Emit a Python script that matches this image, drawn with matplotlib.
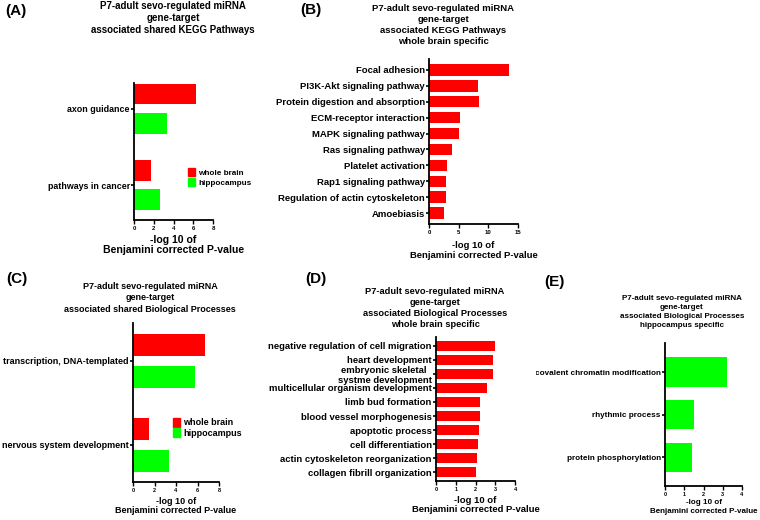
import matplotlib
matplotlib.use('Agg')
import matplotlib.pyplot as plt
import numpy as np
from matplotlib.patches import Patch
from matplotlib.transforms import Bbox, TransformedBbox

plt.rcParams['font.family'] = ['Liberation Sans', 'DejaVu Sans']
plt.rcParams['font.weight'] = 'bold'

RED = '#ff0000'
GREEN = '#00ff00'

# panel A - shared KEGG
kegg_shared = ['axon guidance', 'pathways in cancer']
kegg_shared_wb = [6.3, 1.7]
kegg_shared_hc = [3.3, 2.6]

# panel B - KEGG whole brain specific
kegg_wb = ['Focal adhesion', 'PI3K-Akt signaling pathway', 'Protein digestion and absorption',
           'ECM-receptor interaction', 'MAPK signaling pathway', 'Ras signaling pathway',
           'Platelet activation', 'Rap1 signaling pathway', 'Regulation of actin cytoskeleton',
           'Amoebiasis']
kegg_wb_vals = [13.5, 8.25, 8.4, 5.15, 5.05, 3.8, 3.1, 2.9, 2.9, 2.5]

# panel C - shared BP
bp_shared = ['transcription, DNA-templated', 'nervous system development']
bp_shared_wb = [6.7, 1.5]
bp_shared_hc = [5.75, 3.35]

# panel D - BP whole brain specific
bp_wb = ['negative regulation of cell migration', 'heart development',
         'embryonic skeletal  \nsystme development', 'multicellular organism development',
         'limb bud formation', 'blood vessel morphogenesis', 'apoptotic process',
         'cell differentiation', 'actin cytoskeleton reorganization', 'collagen fibrill organization']
bp_wb_vals = [3.0, 2.89, 2.89, 2.6, 2.23, 2.23, 2.16, 2.14, 2.1, 2.04]

# panel E - BP hippocampus specific
bp_hc = ['covalent chromatin modification', 'rhythmic process', 'protein phosphorylation']
bp_hc_vals = [3.2, 1.5, 1.4]

W, H = 760, 520
fig = plt.figure(figsize=(7.6, 5.2), dpi=100)


def px_axes(x0, y0, x1, y1):
    # pixel box (top-left origin) -> figure axes
    return fig.add_axes([x0 / W, 1 - y1 / H, (x1 - x0) / W, (y1 - y0) / H])


def ftext(x, y, s, size, **kw):
    fig.text(x / W, 1 - y / H, s, fontsize=size, fontweight='bold', **kw)


def style(ax, xmax, step, lab, tick, xl, lpad=3, lsp=1.0):
    for sp in ['top', 'right']:
        ax.spines[sp].set_visible(False)
    for sp in ['left', 'bottom']:
        ax.spines[sp].set_linewidth(1.3)
    ax.set_xlim(0, xmax)
    ax.set_xticks(np.arange(0, xmax + 0.01, step))
    ax.tick_params(axis='y', length=2.5, width=1.2, pad=0.5, labelsize=lab)
    ax.tick_params(axis='x', length=3, width=1.0, pad=1, labelsize=tick)
    for t in ax.get_xticklabels() + ax.get_yticklabels():
        t.set_fontweight('bold')
    ax.set_xlabel('-log 10 of\nBenjamini corrected P-value', fontsize=xl, fontweight='bold',
                  labelpad=lpad, linespacing=lsp)


def legend(ax, x, y, size):
    ax.legend(handles=[Patch(color=RED, label='whole brain'), Patch(color=GREEN, label='hippocampus')],
              loc='upper left', bbox_to_anchor=(x / W, 1 - y / H), bbox_transform=fig.transFigure,
              frameon=False, handlelength=0.8, handleheight=1.2, handletextpad=0.4,
              labelspacing=0.1, borderpad=0, prop={'weight': 'bold', 'size': size})


# (A)
ax = px_axes(134, 83, 213, 220)
y = np.arange(len(kegg_shared))
ax.barh(y - 0.19, kegg_shared_wb, height=0.27, color=RED)
ax.barh(y + 0.19, kegg_shared_hc, height=0.27, color=GREEN)
ax.set_yticks(y, kegg_shared)
ax.set_ylim(1.455, -0.336)
style(ax, 8, 2, 6.4, 4.3, 7.6, lpad=3, lsp=1.05)
legend(ax, 184, 164, 5.9)
ftext(16, 11, '(A)', 11, ha='center', va='center')
ftext(173, 18, 'P7-adult sevo-regulated miRNA\ngene-target\nassociated shared KEGG Pathways', 7.0,
      ha='center', va='center', linespacing=1.25)

# (B)
ax = px_axes(429, 59, 518, 224)
y = np.arange(len(kegg_wb))
ax.barh(y, kegg_wb_vals, height=0.71, color=RED)
ax.set_yticks(y, kegg_wb)
ax.set_ylim(9.69, -0.69)
style(ax, 15, 5, 6.8, 4.3, 6.8, lpad=5, lsp=1.1)
ftext(311, 10, '(B)', 11, ha='center', va='center')
ftext(443, 25, 'P7-adult sevo-regulated miRNA\ngene-target\nassociated KEGG Pathways\nwhole brain specific', 6.8,
      ha='center', va='center', linespacing=1.3)

# (C)
ax = px_axes(133, 323, 219, 482)
y = np.arange(len(bp_shared))
ax.barh(y - 0.19, bp_shared_wb, height=0.26, color=RED)
ax.barh(y + 0.19, bp_shared_hc, height=0.26, color=GREEN)
ax.set_yticks(y, bp_shared)
ax.set_ylim(1.44, -0.45)
style(ax, 8, 2, 6.5, 4.0, 6.5, lpad=3, lsp=1.1)
legend(ax, 168, 413, 6.5)
ftext(17, 279, '(C)', 11, ha='center', va='center')
ftext(150, 298, 'P7-adult sevo-regulated miRNA\ngene-target\nassociated shared Biological Processes', 6.5,
      ha='center', va='center', linespacing=1.3)

# (D)
ax = px_axes(436, 337, 515, 481)
y = np.arange(len(bp_wb))
ax.barh(y, bp_wb_vals, height=0.69, color=RED)
ax.set_yticks(y, bp_wb)
ax.set_ylim(9.64, -0.64)
style(ax, 4, 1, 6.8, 4.0, 6.8, lpad=3, lsp=1.1)
ftext(316, 279, '(D)', 11, ha='center', va='center')
ftext(435, 308, 'P7-adult sevo-regulated miRNA\ngene-target\nassociated Biological Processes\nwhole brain specific', 6.7,
      ha='center', va='center', linespacing=1.3)

# (E)
ax = px_axes(665, 343, 742, 486)
y = np.arange(len(bp_hc))
ax.barh(y, bp_hc_vals, height=0.69, color=GREEN)
ax.set_yticks(y, bp_hc)
ax.set_ylim(2.67, -0.68)
style(ax, 4, 1, 5.9, 4.0, 5.8, lpad=2, lsp=1.3)
# panel E is cut off on the left in the original figure
clip = TransformedBbox(Bbox.from_extents(536 / W, 0, 1, 1), fig.transFigure)
for t in ax.get_yticklabels():
    t.set_clip_box(clip)
    t.set_clip_on(True)
ftext(554, 282, '(E)', 11, ha='center', va='center')
ftext(682, 312, 'P7-adult sevo-regulated miRNA\ngene-target\nassociated Biological Processes\nhippocampus specific', 5.8,
      ha='center', va='center', linespacing=1.4)

fig.savefig('out.png', dpi=100)
